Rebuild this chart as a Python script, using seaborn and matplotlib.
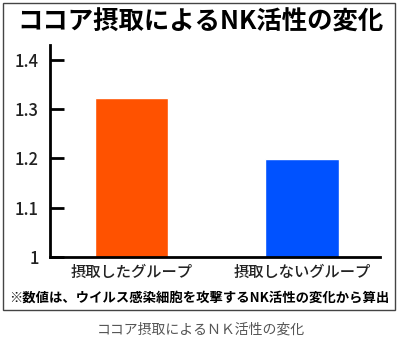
import matplotlib
matplotlib.use("Agg")
import matplotlib.pyplot as plt
import seaborn as sns
import pandas as pd
from matplotlib.patches import Rectangle

categories = ["摂取したグループ", "摂取しないグループ"]
values = [1.322, 1.199]
colors = ["#FF5200", "#0052FF"]
yticks = [1.0, 1.1, 1.2, 1.3, 1.4]
ytick_labels = ["1", "1.1", "1.2", "1.3", "1.4"]
title = "ココア摂取によるNK活性の変化"
footnote = "※数値は、ウイルス感染細胞を攻撃するNK活性の変化から算出"
caption = "ココア摂取によるＮＫ活性の変化"

sns.set_style("white")
plt.rcParams["font.family"] = ["Noto Sans CJK JP", "DejaVu Sans"]

df = pd.DataFrame({"group": categories, "value": values})

fig = plt.figure(figsize=(4.0, 3.39), dpi=100)
ax = fig.add_axes([0.125, 1 - 257 / 339, 0.825, (257 - 45) / 339])

sns.barplot(data=df, x="group", y="value", hue="group", palette=colors,
            order=categories, hue_order=categories, legend=False,
            width=0.43, ax=ax, saturation=1)
ax.set_ylim(1.0, 1.43)
ax.set_xlim(-0.478, 1.457)
ax.set_yticks(yticks)
ax.set_yticklabels(ytick_labels)
ax.set_xlabel("")
ax.set_ylabel("")
for s in ["top", "right"]:
    ax.spines[s].set_visible(False)
for s in ["left", "bottom"]:
    ax.spines[s].set_linewidth(2)
    ax.spines[s].set_color("black")
ax.tick_params(axis="y", direction="in", length=10, width=2, pad=8,
               labelsize=12, colors="black", left=True)
ax.tick_params(axis="y", labelcolor="#222222")
ax.tick_params(axis="x", length=0, pad=5, labelsize=11, labelcolor="#222222")
for lab in ax.get_xticklabels() + ax.get_yticklabels():
    lab.set_fontweight("medium")

fig.patches.append(Rectangle((3 / 400, 1 - 310 / 339), 392 / 400, 307 / 339,
                             transform=fig.transFigure, fill=False,
                             edgecolor="#444444", linewidth=1))

fig.text(0.5, 1 - 22 / 339, title, ha="center", va="center",
         fontsize=18.3, fontweight="bold", color="black")
fig.text(0.498, 1 - 297.5 / 339, footnote, ha="center", va="center",
         fontsize=9.6, fontweight="bold", color="black")
fig.text(0.502, 1 - 330 / 339, caption, ha="center", va="center",
         fontsize=10, color="#555555")

fig.savefig("out.png", dpi=100)
